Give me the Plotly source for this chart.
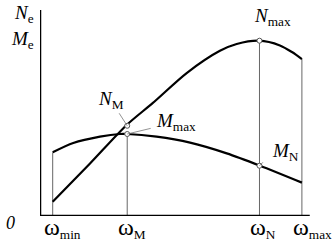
import plotly.graph_objects as go

# angular speed positions (arbitrary units)
omega_subs = ["min", "M", "N", "max"]
omega_vals = [4.85, 33.3, 83.8, 100.0]

# power curve N_e (arbitrary units)
N_x = [4.85, 19.1, 33.1, 43.1, 56.0, 68.7, 75.1, 83.7, 91.6, 96.2, 100.0]
N_y = [6.9, 25.5, 44.2, 54.9, 69.4, 80.2, 83.5, 85.1, 82.8, 79.6, 76.2]

# torque curve M_e (arbitrary units)
M_x = [4.85, 12.7, 22.9, 30.5, 33.3, 44.5, 57.3, 71.3, 84.0, 100.0]
M_y = [30.9, 35.4, 38.5, 39.8, 39.8, 38.5, 35.6, 30.4, 24.4, 16.2]

# characteristic points
pt_names = ["N<sub>M</sub>", "M<sub>max</sub>", "N<sub>max</sub>", "M<sub>N</sub>"]
pt_x = [33.3, 33.3, 83.8, 83.8]
pt_y = [43.8, 39.8, 85.1, 24.4]

# tops of the vertical drop lines at each omega
drop_top = [M_y[0], pt_y[1], pt_y[2], N_y[-1]]

FONT = "Liberation Serif, Times New Roman, serif"
fig = go.Figure()

for w, top in zip(omega_vals, drop_top):
    fig.add_trace(go.Scatter(x=[w, w], y=[0, top], mode="lines",
                             line=dict(color="#666666", width=1), hoverinfo="skip"))

fig.add_trace(go.Scatter(x=N_x, y=N_y, mode="lines",
                         line=dict(color="black", width=2.2, shape="spline", smoothing=0.8)))
fig.add_trace(go.Scatter(x=M_x, y=M_y, mode="lines",
                         line=dict(color="black", width=2.2, shape="spline", smoothing=0.8)))

# leader lines (tail offsets in pixels)
leaders = [(-9, -14), (25, -6), (0, 0), (5, -5)]
for (x, y), (ax, ay), nm in zip(zip(pt_x, pt_y), leaders, pt_names):
    if ax == 0 and ay == 0:
        continue
    fig.add_annotation(x=x, y=y, ax=ax, ay=ay, text="", showarrow=True,
                       arrowhead=0, arrowwidth=0.8, arrowcolor="#777777",
                       xref="x", yref="y", axref="pixel", ayref="pixel")

fig.add_trace(go.Scatter(x=pt_x, y=pt_y, mode="markers",
                         marker=dict(size=5, color="white", line=dict(color="#555555", width=1))))

# axes as thick lines
fig.add_shape(type="line", x0=0, x1=0, y0=0, y1=100.5, line=dict(color="black", width=2.5))
fig.add_shape(type="line", x0=0, x1=103, y0=0, y1=0, line=dict(color="black", width=2.5))

# point labels
label_shift = [(-16, 26), (49, 12), (13, 24), (26, 14)]
for nm, x, y, (xs, ys) in zip(pt_names, pt_x, pt_y, label_shift):
    fig.add_annotation(x=x, y=y, text="<i>" + nm.split("<sub>")[0] + "</i><sub>" + nm.split("<sub>")[1],
                       showarrow=False, xshift=xs, yshift=ys,
                       font=dict(family=FONT, size=19, color="black"))

# omega tick labels
for sub, w in zip(omega_subs, omega_vals):
    fig.add_annotation(x=w, y=0, text="<span style='font-size:24px'>ω</span><sub>" + sub + "</sub>",
                       showarrow=False, xanchor="left",
                       xshift=-11, yshift=-12, font=dict(family=FONT, size=19, color="black"))

# axis titles and origin
fig.add_annotation(x=0, y=98, text="<i>N</i><sub>e</sub>", showarrow=False, xanchor="right",
                   xshift=-4, font=dict(family=FONT, size=19, color="black"))
fig.add_annotation(x=0, y=85.4, text="<i>M</i><sub>e</sub>", showarrow=False, xanchor="right",
                   xshift=-4, font=dict(family=FONT, size=19, color="black"))
fig.add_annotation(x=0, y=0, text="<i>0</i>", showarrow=False, xshift=-30, yshift=-7,
                   font=dict(family=FONT, size=18, color="black"))

fig.update_layout(width=336, height=241, margin=dict(l=40, r=21, t=10, b=25),
                  paper_bgcolor="white", plot_bgcolor="white", showlegend=False)
fig.update_xaxes(range=[0, 105], visible=False)
fig.update_yaxes(range=[0, 100], visible=False)

fig.write_html("out.html")
